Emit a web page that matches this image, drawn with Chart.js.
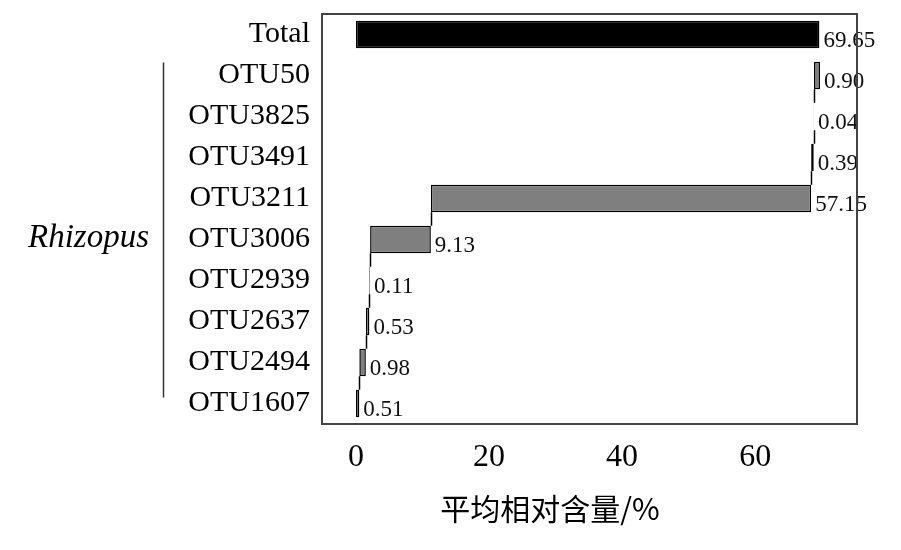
<!DOCTYPE html>
<html>
<head>
<meta charset="utf-8">
<script src="https://cdn.jsdelivr.net/npm/chart.js@4.4.1/dist/chart.umd.min.js"></script>
<style>
  html, body { margin: 0; padding: 0; background: #fff; }
  #wrap { width: 901px; height: 550px; }
</style>
</head>
<body>
<div id="wrap"><canvas id="otuChart"></canvas></div>
<script>
// categories, top to bottom
const categories = ['Total', 'OTU50', 'OTU3825', 'OTU3491', 'OTU3211', 'OTU3006', 'OTU2939', 'OTU2637', 'OTU2494', 'OTU1607'];
// mean relative abundance (%)
const abundance = [69.65, 0.90, 0.04, 0.39, 57.15, 9.13, 0.11, 0.53, 0.98, 0.51];
const tickLabels = [0, 20, 40, 60];
const groupName = 'Rhizopus';
const axisTitle = '平均相对含量/%';

// waterfall: each OTU starts where the one below it ended, Total starts at 0
const ranges = new Array(categories.length);
let running = 0;
for (let i = categories.length - 1; i >= 1; i--) {
    ranges[i] = [running, running + abundance[i]];
    running += abundance[i];
}
ranges[0] = [0, abundance[0]];

const serif = '"Liberation Serif", "Times New Roman", serif';

const extrasPlugin = {
    id: 'extras',
    afterDatasetsDraw(chart) {
        const ctx = chart.ctx;
        const area = chart.chartArea;
        const meta = chart.getDatasetMeta(0);
        const xs = chart.scales.x;
        const ys = chart.scales.y;
        ctx.save();

        // connectors between consecutive OTU bars
        ctx.strokeStyle = '#000';
        ctx.lineWidth = 1.5;
        for (let i = categories.length - 1; i >= 2; i--) {
            const lower = meta.data[i];
            const upper = meta.data[i - 1];
            const x = Math.round(xs.getPixelForValue(ranges[i][1])) + 0.5;
            ctx.beginPath();
            ctx.moveTo(x, lower.y - lower.height / 2);
            ctx.lineTo(x, upper.y + upper.height / 2);
            ctx.stroke();
        }

        // value labels
        ctx.fillStyle = '#111';
        ctx.font = '23px ' + serif;
        ctx.textAlign = 'left';
        ctx.textBaseline = 'middle';
        meta.data.forEach((bar, i) => {
            const x = xs.getPixelForValue(ranges[i][1]) + 4;
            ctx.fillText(abundance[i].toFixed(2), x, bar.y + 6);
        });

        // plot frame
        ctx.strokeStyle = '#444';
        ctx.lineWidth = 2;
        ctx.strokeRect(area.left, area.top, area.right - area.left, area.bottom - area.top);

        // genus bracket
        const yTop = ys.getPixelForValue(1) - 13;
        const yBot = ys.getPixelForValue(categories.length - 1) - 6;
        ctx.strokeStyle = '#333';
        ctx.lineWidth = 1.5;
        ctx.beginPath();
        ctx.moveTo(163.5, yTop);
        ctx.lineTo(163.5, yBot);
        ctx.stroke();
        ctx.fillStyle = '#000';
        ctx.font = 'italic 33px ' + serif;
        ctx.textAlign = 'right';
        ctx.fillText(groupName, 149, ys.getPixelForValue(5) - 1);

        // x axis title
        ctx.font = '30px "Noto Sans CJK SC", sans-serif';
        ctx.textAlign = 'center';
        ctx.fillText(axisTitle, 550, 509);
        ctx.restore();
    }
};

const ctx = document.getElementById('otuChart').getContext('2d');
const otuChart = new Chart(ctx, {
    type: 'bar',
    data: {
        labels: categories,
        datasets: [{
            data: ranges,
            backgroundColor: categories.map((c, i) => i === 0 ? '#000' : '#7f7f7f'),
            borderColor: '#000',
            borderWidth: 1.5,
            borderSkipped: false,
            categoryPercentage: 1,
            barPercentage: 0.67
        }]
    },
    options: {
        indexAxis: 'y',
        responsive: true,
        maintainAspectRatio: false,
        animation: false,
        layout: { padding: { left: 0, right: 44, top: 14, bottom: 0 } },
        plugins: {
            legend: { display: false },
            tooltip: { enabled: false }
        },
        scales: {
            x: {
                min: -5.1,
                max: 75.3,
                grid: { display: false, drawTicks: false },
                border: { display: false },
                afterBuildTicks: function(scale) {
                    scale.ticks = tickLabels.map(v => ({ value: v }));
                },
                afterFit: function(scale) {
                    scale.height = 126;
                    scale.paddingLeft = 0;
                    scale.paddingRight = 0;
                },
                ticks: {
                    color: '#000',
                    padding: 14,
                    maxRotation: 0,
                    font: { family: serif, size: 32 }
                }
            },
            y: {
                grid: { display: false, drawTicks: false },
                border: { display: false },
                afterFit: function(scale) {
                    scale.width = 322;
                    scale.paddingTop = 0;
                    scale.paddingBottom = 0;
                },
                ticks: {
                    color: '#000',
                    padding: 12,
                    font: { family: serif, size: 30 }
                }
            }
        }
    },
    plugins: [extrasPlugin]
});
</script>
</body>
</html>
